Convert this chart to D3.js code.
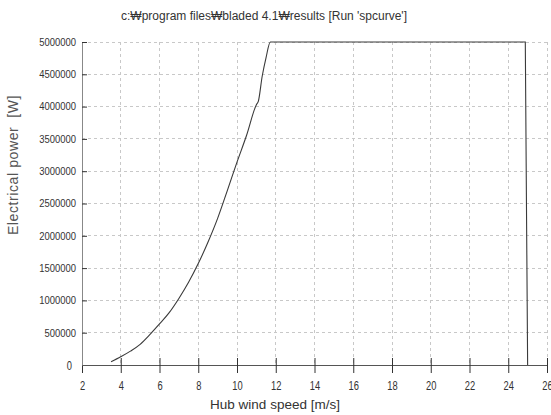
<!DOCTYPE html>
<html><head><meta charset="utf-8">
<script src="https://cdn.jsdelivr.net/npm/d3@7"></script>
<style>body{margin:0;background:#fff;}svg{display:block;}</style>
</head><body>
<svg id="c" width="551" height="415"></svg>
<script>
const windSpeed = [3.5,4.0,4.5,5.0,5.5,6.0,6.5,7.0,7.5,8.0,8.5,9.0,9.5,10.0,10.5,11.0,11.1,11.3,11.5,11.72,24.88,25.0];
const power     = [51000,128000,215000,320000,470000,635000,810000,1030000,1280000,1570000,1900000,2270000,2700000,3140000,3560000,4030000,4080000,4470000,4760000,5000000,5000000,0];
const xTicks = [2,4,6,8,10,12,14,16,18,20,22,24,26];
const yTicks = [0,500000,1000000,1500000,2000000,2500000,3000000,3500000,4000000,4500000,5000000];
const titleText = "c:\u20A9program files\u20A9bladed 4.1\u20A9results  [Run 'spcurve']";
const xLabel = "Hub wind speed [m/s]";
const yLabel = "Electrical power\u00A0\u00A0[W]";

const svg = d3.select("#c");
const L = 82, R = 547, T = 42, B = 365;
const x = d3.scaleLinear().domain([2,26]).range([L,R]);
const y = d3.scaleLinear().domain([0,5000000]).range([B,T]);
const font = "Liberation Sans, Arial, sans-serif";

// grid
const g = svg.append("g");
g.selectAll(".vg").data(xTicks.filter(d=>d>2)).enter().append("line")
  .attr("x1",d=>x(d)).attr("x2",d=>x(d)).attr("y1",T).attr("y2",B)
  .attr("stroke","#c8c8c8").attr("stroke-dasharray","3,3").attr("stroke-width",1).attr("shape-rendering","crispEdges");
g.selectAll(".hg").data(yTicks.filter(d=>d>0)).enter().append("line")
  .attr("x1",L).attr("x2",R).attr("y1",d=>y(d)).attr("y2",d=>y(d))
  .attr("stroke","#c8c8c8").attr("stroke-dasharray","3,3").attr("stroke-width",1).attr("shape-rendering","crispEdges");

// axes
const xAxis = svg.append("g").attr("transform",`translate(0,${B})`)
  .call(d3.axisBottom(x).tickValues(xTicks).tickSizeInner(-7).tickSizeOuter(0).tickPadding(16).tickFormat(d3.format("d")));
xAxis.selectAll(".tick line").attr("y1",8);
xAxis.select(".domain").attr("stroke","#555");
xAxis.selectAll(".tick line").attr("stroke","#333");
xAxis.selectAll(".tick text").attr("font-family",font).attr("font-size",13).attr("fill","#333")
  .attr("transform","scale(0.72,1)");

const yAxis = svg.append("g").attr("transform",`translate(${L},0)`)
  .call(d3.axisLeft(y).tickValues(yTicks).tickSizeInner(6).tickSizeOuter(0).tickPadding(1).tickFormat(d3.format("d")));
yAxis.selectAll(".tick line").attr("x2",5).attr("stroke","#333");
yAxis.select(".domain").attr("stroke","#888");
yAxis.selectAll(".tick text").attr("font-family",font).attr("font-size",10.5).attr("fill","#333")
  .attr("transform","translate(-6,0) scale(0.9,1)").attr("x",0);
yAxis.selectAll(".tick").filter(d=>d===0).select("line").remove();
yAxis.selectAll(".tick").filter(d=>d===0).select("text").attr("font-size",13).attr("transform","translate(-10,0) scale(0.72,1)");

// line
svg.append("path").datum(windSpeed.map((w,i)=>[w,power[i]]))
  .attr("d",d3.line().curve(d3.curveMonotoneX).x(d=>x(d[0])).y(d=>y(d[1])))
  .attr("fill","none").attr("stroke","#3a3a3a").attr("stroke-width",1.1);

// texts
svg.append("text").attr("x",264).attr("y",20).attr("text-anchor","middle")
  .attr("font-family",font).attr("font-size",12).attr("fill","#333").text(titleText);
svg.append("text").attr("x",275).attr("y",409).attr("text-anchor","middle")
  .attr("font-family",font).attr("font-size",13.5).attr("fill","#333").text(xLabel);
svg.append("text").attr("transform","translate(18,165) rotate(-90)").attr("text-anchor","middle")
  .attr("font-family",font).attr("font-size",14).attr("letter-spacing",0.6).attr("fill","#555").text(yLabel);
</script>
</body></html>
